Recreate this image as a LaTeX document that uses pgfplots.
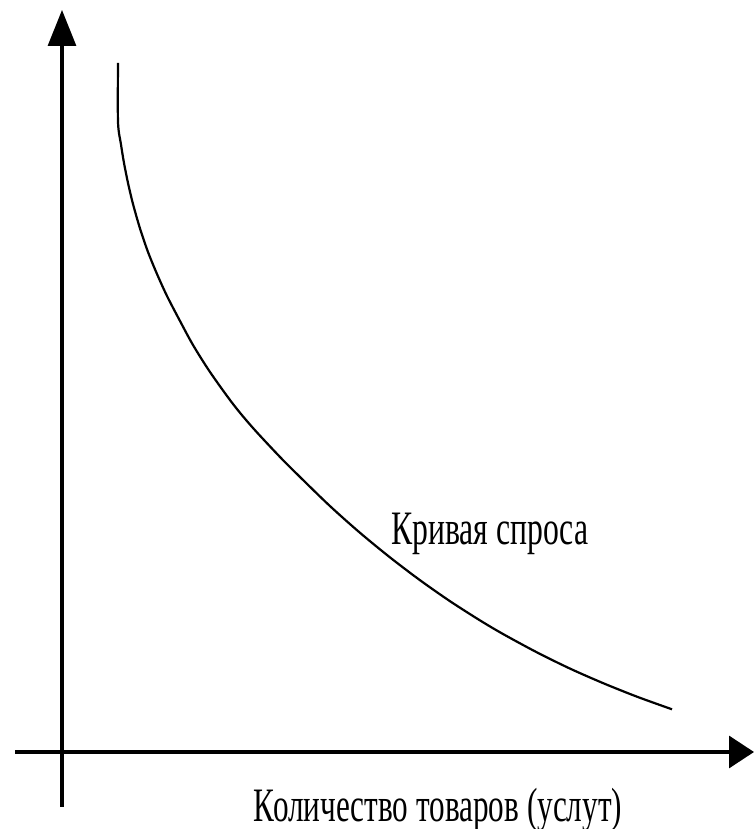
\documentclass[border=0pt]{standalone}
\usepackage{pgfplots}
\pgfplotsset{compat=1.18}
\usepackage{fontspec}
\setmainfont{Liberation Serif}
\usetikzlibrary{arrows.meta}
\begin{document}
\begin{tikzpicture}
\begin{axis}[
  scale only axis,
  width=369.5pt, height=398.5pt,
  xmin=-47, xmax=692, ymin=-55, ymax=742,
  axis lines=middle,
  axis line style={line width=1.6pt},
  x axis line style={-{Triangle[length=12.5pt,width=16pt]}},
  y axis line style={-{Triangle[length=18pt,width=14pt]}},
  xtick=\empty, ytick=\empty,
  clip=false,
]
\addplot[black, line width=1.1pt, smooth, tension=0.5] coordinates {
(56,689) (56,630) (59,607.5) (62,589) (66,569) (71,548) (78,523.5) (86,500)
(95,478) (105,456) (118,431) (131,407) (148,380) (171,348) (191,324)
(218,295) (238,275) (268,245.9) (298,219.2) (328,194.6) (358,171.8)
(388,150.8) (418,131.6) (441,118) (475,99.6) (508,83.4) (541,68.9)
(575,55.3) (610,42.7)
};
\node[anchor=base west, inner sep=0pt] at (axis cs:329,207)
  {\fontsize{24}{28}\selectfont\scalebox{0.66}[1]{Кривая спроса}};
\node[anchor=base, inner sep=0pt] at (axis cs:376,-69)
  {\fontsize{24}{28}\selectfont\scalebox{0.65}[1]{Количество товаров (услут)}};
\coordinate (bl) at (axis cs:-62,-77);
\coordinate (tr) at (axis cs:692,752);
\end{axis}
\pgfresetboundingbox
\useasboundingbox (bl) rectangle (tr);
\end{tikzpicture}
\end{document}
